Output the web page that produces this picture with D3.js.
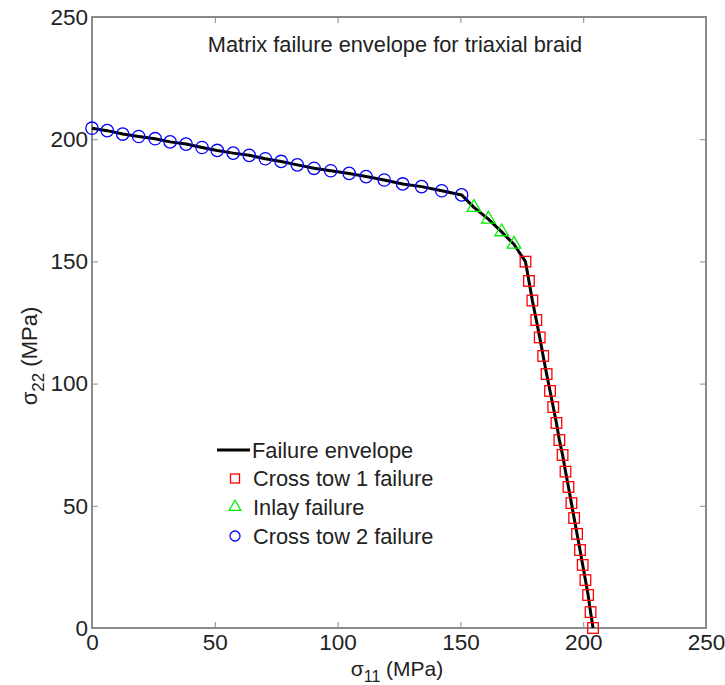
<!DOCTYPE html>
<html>
<head>
<meta charset="utf-8">
<script src="https://cdn.jsdelivr.net/npm/d3@7"></script>
<style>
  html, body { margin: 0; padding: 0; background: #fff; }
  svg { display: block; font-family: "Liberation Sans", Arial, sans-serif; }
</style>
</head>
<body>
<svg id="chart" width="725" height="685"></svg>
<script>
// ---- data (MPa) ----
const circX = [0, 6.2, 12.5, 19.0, 25.7, 31.8, 38.3, 44.8, 51.0, 57.5, 64.0, 70.6, 77.0, 83.6, 90.4, 97.2, 104.7, 111.6, 119.0, 126.5, 134.2, 142.4, 150.5];
const circY = [204.5, 203.5, 202.1, 201.1, 200.2, 198.9, 198.0, 196.6, 195.4, 194.3, 193.4, 192.0, 190.9, 189.5, 188.1, 187.1, 186.0, 184.7, 183.3, 181.7, 180.6, 178.9, 177.2];
const triX = [155.5, 161.4, 166.8, 171.8];
const triY = [172.1, 167.3, 162.1, 157.0];
const sqX = [176.5, 177.9, 179.3, 180.9, 182.3, 183.7, 185.1, 186.5, 187.8, 189.1, 190.3, 191.6, 192.8, 194.0, 195.2, 196.3, 197.5, 198.7, 199.8, 200.9, 202.0, 203.0, 204.0];
const sqY = [149.9, 142.0, 134.0, 126.0, 118.9, 111.3, 103.9, 97.0, 90.4, 83.9, 76.9, 70.8, 64.0, 57.7, 51.1, 45.0, 38.5, 31.9, 25.8, 19.6, 13.5, 6.5, 0];
const xTicks = [0, 50, 100, 150, 200, 250];
const yTicks = [0, 50, 100, 150, 200, 250];
const titleText = "Matrix failure envelope for triaxial braid";
const legendLabels = ["Failure envelope", "Cross tow 1 failure", "Inlay failure", "Cross tow 2 failure"];

const circles = circX.map((x, i) => ({x, y: circY[i]}));
const triangles = triX.map((x, i) => ({x, y: triY[i]}));
const squares = sqX.map((x, i) => ({x, y: sqY[i]}));
const envelope = circles.concat(triangles, squares);

// ---- layout ----
const L = 92, R = 706, T = 17, B = 628;
const svg = d3.select("#chart");
const x = d3.scaleLinear().domain([0, 250]).range([L, R]);
const y = d3.scaleLinear().domain([0, 250]).range([B, T]);
const axisColor = "#8a8a8a";
const textColor = "#222";

// axes
const fs = "22.5px";
const gx = svg.append("g").attr("transform", `translate(0,${B})`)
  .call(d3.axisBottom(x).tickValues(xTicks).tickSizeInner(-6).tickSizeOuter(0).tickPadding(6));
const gy = svg.append("g").attr("transform", `translate(${L},0)`)
  .call(d3.axisLeft(y).tickValues(yTicks).tickSizeInner(-6).tickSizeOuter(0).tickPadding(4));
const gxt = svg.append("g").attr("transform", `translate(0,${T})`)
  .call(d3.axisTop(x).tickValues(xTicks).tickSizeInner(-6).tickSizeOuter(0).tickFormat(""));
const gyr = svg.append("g").attr("transform", `translate(${R},0)`)
  .call(d3.axisRight(y).tickValues(yTicks).tickSizeInner(-6).tickSizeOuter(0).tickFormat(""));
[gx, gy, gxt, gyr].forEach(g => {
  g.select(".domain").remove();
  g.selectAll(".tick line").attr("stroke", axisColor).attr("stroke-width", 1);
  g.selectAll(".tick text").attr("fill", textColor).style("font-size", fs)
    .style("font-family", '"Liberation Sans", Arial, sans-serif');
});

// box
svg.append("rect").attr("x", L).attr("y", T).attr("width", R - L).attr("height", B - T)
  .attr("fill", "none").attr("stroke", axisColor).attr("stroke-width", 2);

// envelope line
const line = d3.line().x(d => x(d.x)).y(d => y(d.y));
svg.append("path").datum(envelope).attr("d", line)
  .attr("fill", "none").attr("stroke", "#000").attr("stroke-width", 3).attr("stroke-linejoin", "round");

// markers
svg.append("g").selectAll("circle").data(circles).join("circle")
  .attr("cx", d => x(d.x)).attr("cy", d => y(d.y)).attr("r", 6.2)
  .attr("fill", "none").attr("stroke", "#0000ff").attr("stroke-width", 1.3);
const triSym = d3.symbol().type(d3.symbolTriangle).size(80);
svg.append("g").selectAll("path").data(triangles).join("path")
  .attr("transform", d => `translate(${x(d.x)},${y(d.y)})`).attr("d", triSym)
  .attr("fill", "none").attr("stroke", "#00ee00").attr("stroke-width", 1.3);
svg.append("g").selectAll("rect").data(squares).join("rect")
  .attr("x", d => x(d.x) - 5.3).attr("y", d => y(d.y) - 5.3).attr("width", 10.6).attr("height", 10.6)
  .attr("fill", "none").attr("stroke", "#ff0000").attr("stroke-width", 1.3);

// title
svg.append("text").attr("x", 395).attr("y", 52).attr("text-anchor", "middle")
  .attr("fill", textColor).style("font-size", "21.8px").text(titleText);

// axis labels
const xl = svg.append("text").attr("x", 397).attr("y", 676).attr("text-anchor", "middle")
  .attr("fill", textColor).style("font-size", "21px");
xl.append("tspan").text("σ");
xl.append("tspan").attr("dy", 6).style("font-size", "16px").text("11");
xl.append("tspan").attr("dy", -6).text(" (MPa)");

const yl = svg.append("text").attr("transform", "translate(37,356) rotate(-90)").attr("text-anchor", "middle")
  .attr("fill", textColor).style("font-size", "22px");
yl.append("tspan").text("σ");
yl.append("tspan").attr("dy", 7).style("font-size", "17px").text("22");
yl.append("tspan").attr("dy", -7).text(" (MPa)");

// legend
const lg = svg.append("g");
const rowY = [450, 478.5, 507, 536];
lg.append("line").attr("x1", 217).attr("x2", 250).attr("y1", rowY[0]).attr("y2", rowY[0])
  .attr("stroke", "#000").attr("stroke-width", 3);
lg.append("rect").attr("x", 230.5).attr("y", rowY[1] - 4.5).attr("width", 9).attr("height", 9)
  .attr("fill", "none").attr("stroke", "#ff0000").attr("stroke-width", 1.3);
lg.append("path").attr("transform", `translate(235,${rowY[2]})`).attr("d", d3.symbol().type(d3.symbolTriangle).size(60))
  .attr("fill", "none").attr("stroke", "#00ee00").attr("stroke-width", 1.3);
lg.append("circle").attr("cx", 235).attr("cy", rowY[3]).attr("r", 5)
  .attr("fill", "none").attr("stroke", "#0000ff").attr("stroke-width", 1.3);
legendLabels.forEach((t, i) => {
  lg.append("text").attr("x", i === 0 ? 252 : 253).attr("y", rowY[i]).attr("dy", "0.35em")
    .attr("fill", textColor).style("font-size", "21.8px").text(t);
});
</script>
</body>
</html>
